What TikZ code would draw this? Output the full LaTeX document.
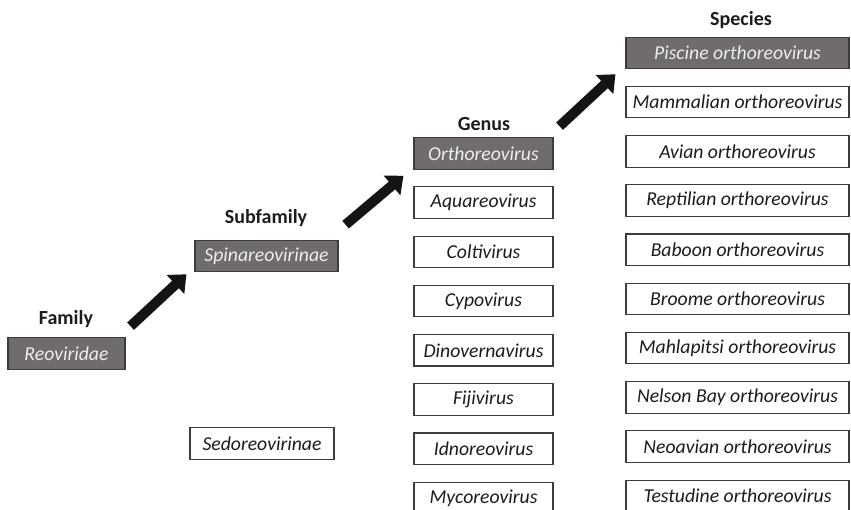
\documentclass[tikz,border=0pt]{standalone}
\usepackage{fontspec}
\setmainfont{Carlito}
\usetikzlibrary{calc,arrows.meta}
\definecolor{taxgray}{RGB}{112,107,110}
\definecolor{taxline}{RGB}{60,60,60}
\definecolor{taxtext}{RGB}{28,28,28}
\tikzset{
taxbox/.style={draw=taxline,line width=1.1pt,inner sep=0pt,minimum height=31.5pt,
  font=\fontsize{19.7}{22}\selectfont\itshape,anchor=center},
darkbox/.style={taxbox,fill=taxgray,text=white!93!black},
lightbox/.style={taxbox,fill=white,text=taxtext},
genbox/.style={minimum width=139pt},
specbox/.style={minimum width=223pt},
ranklabel/.style={font=\fontsize{20}{22}\selectfont\bfseries,text=taxtext,inner sep=0pt},
rankarrow/.style={-{Triangle[length=15pt,width=25pt]},line width=10pt,black!92}
}
\begin{document}
\begin{tikzpicture}[x=1pt,y=-1pt]
\useasboundingbox (0,0) rectangle (851,510);
\clip (0,0) rectangle (851,510);
% rank headings
\node[ranklabel] (lfam) at (66,319) {Family};
\node[ranklabel] (lsub) at (266,218) {Subfamily};
\node[ranklabel] (lgen) at (484,124) {Genus};
\node[ranklabel] (lspec) at (741,20) {Species};
% family and subfamilies
\node[darkbox,minimum width=117pt] (fam) at (66.5,353.5) {Reoviridae};
\node[darkbox,minimum width=143pt] (sub) at (266.5,256) {Spinareovirinae};
\node[lightbox,minimum width=144pt] (sedo) at (262,443.5) {Sedoreovirinae};
% genera
\node[darkbox,genbox] (g1) at (483.5,153.5) {Orthoreovirus};
\foreach \name [count=\i from 2] in {Aquareovirus,Coltivirus,Cypovirus,Dinovernavirus,
  Fijivirus,Idnoreovirus,Mycoreovirus}
  \node[lightbox,genbox] (g\i) at (483.5,{153.5+49.2*(\i-1)}) {\name};
% species
\node[darkbox,specbox] (sp1) at (737.5,53) {Piscine orthoreovirus};
\foreach \name [count=\i from 2] in {Mammalian,Avian,Reptilian,Baboon,Broome,
  Mahlapitsi,Nelson Bay,Neoavian,Testudine}
  \node[lightbox,specbox] (sp\i) at (737.5,{53+49.2*(\i-1)}) {\name\ orthoreovirus};
% arrows
\draw[rankarrow] ($(fam.north east)+(5,-11)$) -- ($(sub.south west)+(-8,2)$);
\draw[rankarrow] ($(sub.north east)+(7,-15)$) -- ($(g1.south west)+(-10,6)$);
\draw[rankarrow] ($(g1.north east)+(6,-11)$) -- ($(sp1.south west)+(-10,5)$);
\end{tikzpicture}
\end{document}
